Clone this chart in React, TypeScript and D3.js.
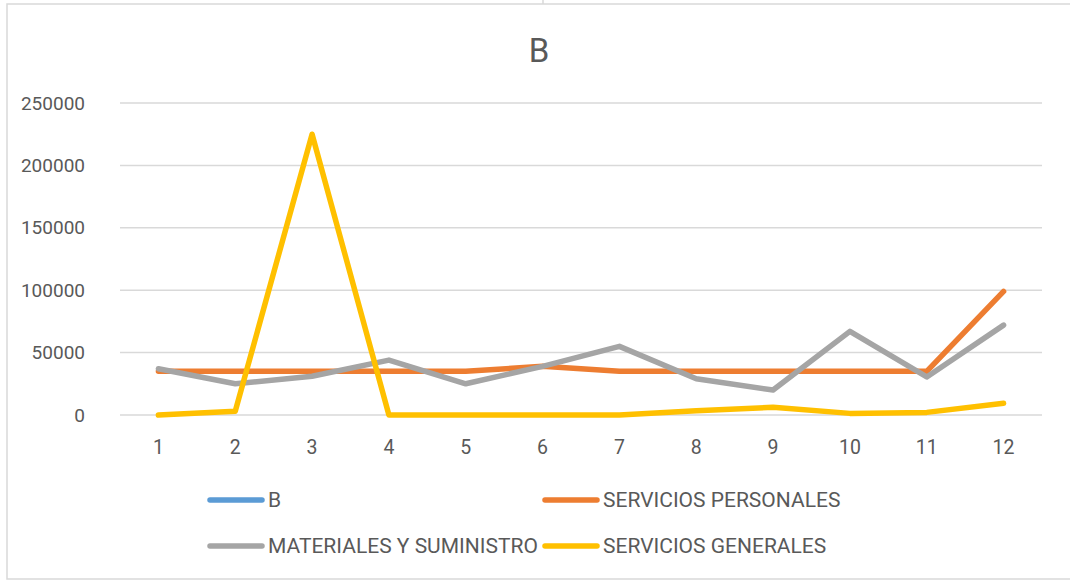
import React from 'react';
import * as d3 from 'd3';

const months = ['1', '2', '3', '4', '5', '6', '7', '8', '9', '10', '11', '12'];
const yTicks = [0, 50000, 100000, 150000, 200000, 250000];

// B has no visible values in the source chart
const serieB: (number | null)[] = [null, null, null, null, null, null, null, null, null, null, null, null];
const serviciosPersonales = [35000, 35000, 35000, 35000, 35000, 39000, 35000, 35000, 35000, 35000, 35000, 99000];
const materiales = [37000, 25000, 31000, 44000, 25000, 39000, 55000, 29000, 20000, 67000, 30500, 72000];
const serviciosGenerales = [0, 3000, 225000, 0, 0, 0, 0, 3400, 6200, 1300, 2100, 9400];

const series = [
  { name: 'B', values: serieB, color: '#5B9BD5' },
  { name: 'SERVICIOS PERSONALES', values: serviciosPersonales, color: '#ED7D31' },
  { name: 'MATERIALES Y SUMINISTRO', values: materiales, color: '#A5A5A5' },
  { name: 'SERVICIOS GENERALES', values: serviciosGenerales, color: '#FFC000' },
];

const W = 1070;
const H = 581;
const plot = { left: 120, right: 1042, top: 103, bottom: 415 };
const textColor = '#595959';
const font = 'Roboto, "Noto Sans", sans-serif';

const App = () => {
  const x = d3.scaleBand<string>().domain(months).range([plot.left, plot.right]);
  const y = d3.scaleLinear().domain([0, 250000]).range([plot.bottom, plot.top]);
  const cx = (m: string) => (x(m) ?? 0) + x.bandwidth() / 2;

  const line = d3.line<number | null>()
    .defined(d => d !== null)
    .x((_, i) => cx(months[i]))
    .y(d => y(d as number));

  // legend grid: two columns, two rows
  const legendCols = [210, 545];
  const legendRows = [500, 546];

  return (
    <div style={{ position: 'fixed', left: 0, top: 0 }}>
      <svg width={W} height={H} style={{ display: 'block', background: '#fff' }} fontFamily={font}>
        {/* chart area border */}
        <rect x={7} y={4} width={W + 10} height={575} fill="none" stroke="#d9d9d9" strokeWidth={1.5} />
        <line x1={543} x2={543} y1={0} y2={4} stroke="#d9d9d9" strokeWidth={1.5} />

        <text x={539} y={62} textAnchor="middle" fontSize={33} fill={textColor}>B</text>

        {/* gridlines + y labels */}
        {yTicks.map(t => (
          <g key={t}>
            <line x1={plot.left} x2={plot.right} y1={y(t)} y2={y(t)} stroke="#d9d9d9" strokeWidth={1.5} />
            <text x={85} y={y(t)} dy="0.35em" textAnchor="end" fontSize={19} fill={textColor}>{t}</text>
          </g>
        ))}

        {/* x labels */}
        {months.map(m => (
          <text key={m} x={cx(m)} y={454} textAnchor="middle" fontSize={19.5} fill={textColor}>{m}</text>
        ))}

        {/* series lines */}
        {series.map(s => (
          <path key={s.name} d={line(s.values) ?? ''} fill="none" stroke={s.color} strokeWidth={5.5}
            strokeLinejoin="round" strokeLinecap="round" />
        ))}

        {/* legend */}
        {series.map((s, i) => {
          const lx = legendCols[i % 2];
          const ly = legendRows[Math.floor(i / 2)];
          return (
            <g key={s.name}>
              <line x1={lx} x2={lx + 52} y1={ly} y2={ly} stroke={s.color} strokeWidth={5.5} strokeLinecap="round" />
              <text x={lx + 58} y={ly} dy="0.35em" fontSize={21} fill={textColor}>{s.name}</text>
            </g>
          );
        })}
      </svg>
    </div>
  );
};

export default App;
